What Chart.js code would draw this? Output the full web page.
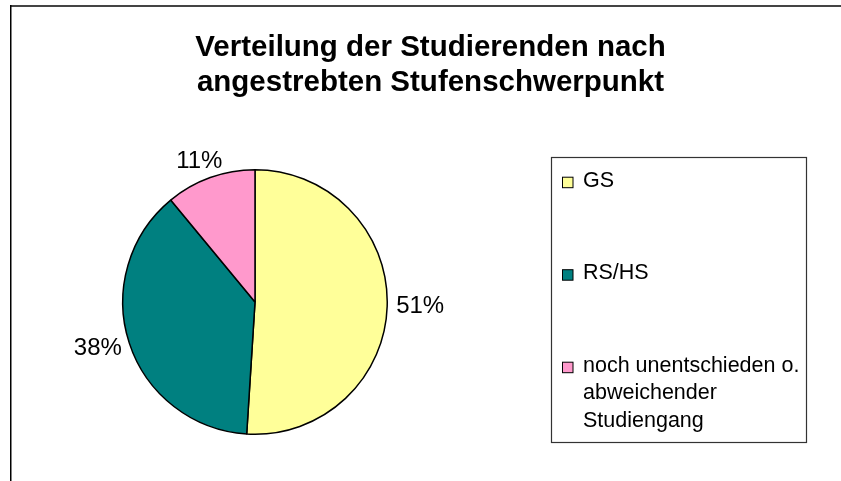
<!DOCTYPE html>
<html>
<head>
<meta charset="utf-8">
<script src="https://cdn.jsdelivr.net/npm/chart.js@4/dist/chart.umd.min.js"></script>
<style>
  body { margin: 0; background: #fff; }
</style>
</head>
<body>
<canvas id="pieChart" width="841" height="481"></canvas>
<script>
const titleLines = ["Verteilung der Studierenden nach", "angestrebten Stufenschwerpunkt"];
const categories = ["GS", "RS/HS", "noch unentschieden o. abweichender Studiengang"];
const shares = [51, 38, 11];
const sliceColors = ["#FFFF99", "#008080", "#FF99CC"];

const FONT = "'Liberation Sans', Arial, sans-serif";

// frame lines at top and left edge, plus the title across the full width
const framePlugin = {
    id: "frame",
    beforeDraw(chart) {
        const ctx = chart.ctx;
        ctx.save();
        ctx.fillStyle = "#fff";
        ctx.fillRect(0, 0, chart.width, chart.height);
        ctx.strokeStyle = "#444";
        ctx.lineWidth = 2;
        ctx.beginPath();
        ctx.moveTo(10, 6);
        ctx.lineTo(chart.width, 6);
        ctx.stroke();
        ctx.strokeStyle = "#000";
        ctx.lineWidth = 1.5;
        ctx.beginPath();
        ctx.moveTo(10.75, 5);
        ctx.lineTo(10.75, chart.height);
        ctx.stroke();

        ctx.font = "bold 29.5px " + FONT;
        ctx.fillStyle = "#000";
        ctx.textAlign = "center";
        ctx.textBaseline = "alphabetic";
        titleLines.forEach((line, i) => {
            ctx.fillText(line, 430.5, 56 + i * 35);
        });
        ctx.restore();
    }
};

// percent labels outside the slices
const percentLabels = {
    id: "percentLabels",
    afterDatasetsDraw(chart) {
        const ctx = chart.ctx;
        const meta = chart.getDatasetMeta(0);
        const values = chart.data.datasets[0].data;
        const total = values.reduce((a, b) => a + b, 0);
        ctx.save();
        ctx.font = "24px " + FONT;
        ctx.fillStyle = "#000";
        ctx.textAlign = "center";
        ctx.textBaseline = "middle";
        meta.data.forEach((arc, i) => {
            const { x, y, startAngle, endAngle, outerRadius } = arc.getProps(["x", "y", "startAngle", "endAngle", "outerRadius"], true);
            const mid = (startAngle + endAngle) / 2;
            const text = Math.round(values[i] / total * 100) + "%";
            const w = ctx.measureText(text).width;
            const h = 17;
            const d = outerRadius + 9;
            const lx = x + Math.cos(mid) * d + Math.cos(mid) * w / 2;
            const ly = y + Math.sin(mid) * d + Math.sin(mid) * h / 2;
            ctx.fillText(text, lx, ly);
        });
        ctx.restore();
    }
};

// boxed legend on the right
const boxLegend = {
    id: "boxLegend",
    afterDraw(chart) {
        const ctx = chart.ctx;
        const box = { x: 551.5, y: 157.5, w: 255, h: 285 };
        ctx.save();
        ctx.strokeStyle = "#333";
        ctx.lineWidth = 1.2;
        ctx.strokeRect(box.x, box.y, box.w, box.h);
        ctx.font = "21.5px " + FONT;
        ctx.textAlign = "left";
        ctx.textBaseline = "alphabetic";
        const textX = 583;
        const maxW = 222;
        chart.data.labels.forEach((label, i) => {
            const baseY = 186.7 + i * 92.5;
            ctx.fillStyle = chart.data.datasets[0].backgroundColor[i];
            ctx.fillRect(562.5, baseY - 9.5, 10.5, 10.5);
            ctx.strokeStyle = "#000";
            ctx.lineWidth = 1;
            ctx.strokeRect(562.5, baseY - 9.5, 10.5, 10.5);
            ctx.fillStyle = "#000";
            const words = label.split(" ");
            let lines = [];
            let cur = "";
            words.forEach(word => {
                const test = cur ? cur + " " + word : word;
                if (ctx.measureText(test).width > maxW && cur) {
                    lines.push(cur);
                    cur = word;
                } else {
                    cur = test;
                }
            });
            lines.push(cur);
            lines.forEach((line, j) => {
                ctx.fillText(line, textX, baseY + j * 27.5);
            });
        });
        ctx.restore();
    }
};

new Chart(document.getElementById("pieChart"), {
    type: "pie",
    data: {
        labels: categories,
        datasets: [{
            data: shares,
            backgroundColor: sliceColors,
            borderColor: "#000",
            borderWidth: 1.5
        }]
    },
    options: {
        responsive: false,
        animation: false,
        layout: {
            padding: { left: 122, right: 453, top: 123, bottom: 0 }
        },
        plugins: {
            legend: { display: false },
            tooltip: { enabled: false },
            title: { display: false }
        }
    },
    plugins: [framePlugin, percentLabels, boxLegend]
});
</script>
</body>
</html>
